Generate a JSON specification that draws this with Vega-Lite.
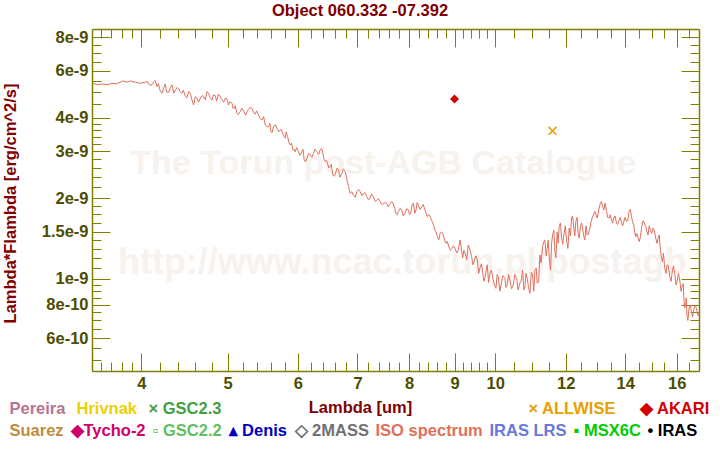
{
  "$schema": "https://vega.github.io/schema/vega-lite/v6.json",
  "width": 607,
  "height": 342,
  "autosize": {"type": "none"},
  "padding": {"left": 92, "top": 29, "right": 21, "bottom": 79},
  "background": "white",
  "config": {"view": {"stroke": null}, "font": "Liberation Sans"},
  "title": {"text": "Object 060.332 -07.392", "font": "Liberation Sans", "fontSize": 16.5, "fontWeight": "bold", "color": "#800000", "anchor": "middle", "frame": "group", "dx": -35.5, "offset": -4, "baseline": "alphabetic"},
  "layer": [
    {
      "data": {"values": [{"label": "The Torun post-AGB Catalogue"}]},
      "mark": {"type": "text", "font": "Liberation Sans", "fontWeight": "bold", "fontSize": 34, "color": "#f7f2ed", "align": "center", "baseline": "middle"},
      "encoding": {
        "text": {"field": "label"},
        "x": {"datum": 7.48, "type": "quantitative", "scale": {"type": "log", "domain": [3.52, 16.95], "nice": false},
          "axis": {"orient": "bottom", "values": [3.6,3.7,3.8,3.9,4.2,4.4,4.6,4.8,5.2,5.4,5.6,5.8,6.2,6.4,6.6,6.8,7.2,7.4,7.6,7.8,8.2,8.4,8.6,8.8,9.2,9.4,9.6,9.8,10.5,11,11.5,12.5,13,13.5,14.5,15,15.5,16.5], "labels": false, "domain": false, "grid": false, "title": null, "tickSize": -9, "tickColor": "#808000", "tickWidth": 1}},
        "y": {"datum": 2.7e-9, "type": "quantitative", "scale": {"type": "log", "domain": [4.53e-10, 8.6e-9], "nice": false},
          "axis": {"orient": "left", "values": [5e-10,5.5e-10,6.5e-10,7e-10,7.5e-10,8.5e-10,9e-10,9.5e-10,1.1e-9,1.2e-9,1.3e-9,1.4e-9,1.625e-9,1.75e-9,1.875e-9,2.2e-9,2.4e-9,2.6e-9,2.8e-9,3.2e-9,3.4e-9,3.6e-9,3.8e-9,4.5e-9,5e-9,5.5e-9,6.5e-9,7e-9,7.5e-9], "labels": false, "domain": false, "grid": false, "title": null, "tickSize": -9, "tickColor": "#808000", "tickWidth": 1}}
      }
    },
    {
      "data": {"values": [{"label": "http://www.ncac.torun.pl/postagb"}]},
      "mark": {"type": "text", "font": "Liberation Sans", "fontWeight": "bold", "fontSize": 36, "color": "#f7f2ed", "align": "center", "baseline": "middle"},
      "encoding": {
        "text": {"field": "label"},
        "x": {"datum": 7.86, "type": "quantitative", "scale": {"type": "log", "domain": [3.52, 16.95], "nice": false},
          "axis": {"orient": "top", "values": [3.6,3.7,3.8,3.9,4.2,4.4,4.6,4.8,5.2,5.4,5.6,5.8,6.2,6.4,6.6,6.8,7.2,7.4,7.6,7.8,8.2,8.4,8.6,8.8,9.2,9.4,9.6,9.8,10.5,11,11.5,12.5,13,13.5,14.5,15,15.5,16.5], "labels": false, "domain": false, "grid": false, "title": null, "tickSize": -9, "tickColor": "#808000", "tickWidth": 1}},
        "y": {"datum": 1.15e-9, "type": "quantitative", "scale": {"type": "log", "domain": [4.53e-10, 8.6e-9], "nice": false},
          "axis": {"orient": "right", "values": [5e-10,5.5e-10,6.5e-10,7e-10,7.5e-10,8.5e-10,9e-10,9.5e-10,1.1e-9,1.2e-9,1.3e-9,1.4e-9,1.625e-9,1.75e-9,1.875e-9,2.2e-9,2.4e-9,2.6e-9,2.8e-9,3.2e-9,3.4e-9,3.6e-9,3.8e-9,4.5e-9,5e-9,5.5e-9,6.5e-9,7e-9,7.5e-9], "labels": false, "domain": false, "grid": false, "title": null, "tickSize": -9, "tickColor": "#808000", "tickWidth": 1}}
      }
    },
    {
      "data": {"values": [
        {"lambda": 3.527, "flux": 5.39e-9}, {"lambda": 3.567, "flux": 5.32e-9}, {"lambda": 3.613, "flux": 5.36e-9}, {"lambda": 3.660, "flux": 5.32e-9},
        {"lambda": 3.708, "flux": 5.39e-9}, {"lambda": 3.756, "flux": 5.36e-9}, {"lambda": 3.811, "flux": 5.50e-9}, {"lambda": 3.855, "flux": 5.44e-9},
        {"lambda": 3.888, "flux": 5.50e-9}, {"lambda": 3.938, "flux": 5.44e-9}, {"lambda": 3.990, "flux": 5.39e-9}, {"lambda": 4.042, "flux": 5.44e-9},
        {"lambda": 4.076, "flux": 5.35e-9}, {"lambda": 4.112, "flux": 5.32e-9}, {"lambda": 4.147, "flux": 5.52e-9}, {"lambda": 4.166, "flux": 5.24e-9},
        {"lambda": 4.220, "flux": 4.95e-9}, {"lambda": 4.256, "flux": 5.35e-9}, {"lambda": 4.293, "flux": 4.99e-9}, {"lambda": 4.331, "flux": 5.32e-9},
        {"lambda": 4.368, "flux": 5.09e-9}, {"lambda": 4.405, "flux": 5.14e-9}, {"lambda": 4.444, "flux": 4.95e-9}, {"lambda": 4.482, "flux": 4.81e-9},
        {"lambda": 4.521, "flux": 5.02e-9}, {"lambda": 4.560, "flux": 4.67e-9}, {"lambda": 4.579, "flux": 4.47e-9}, {"lambda": 4.620, "flux": 4.74e-9},
        {"lambda": 4.659, "flux": 4.74e-9}, {"lambda": 4.699, "flux": 4.81e-9}, {"lambda": 4.741, "flux": 5.02e-9}, {"lambda": 4.773, "flux": 4.81e-9},
        {"lambda": 4.803, "flux": 4.67e-9}, {"lambda": 4.844, "flux": 4.85e-9}, {"lambda": 4.885, "flux": 4.91e-9}, {"lambda": 4.928, "flux": 4.67e-9},
        {"lambda": 4.971, "flux": 4.74e-9}, {"lambda": 5.013, "flux": 4.47e-9}, {"lambda": 5.058, "flux": 4.54e-9}, {"lambda": 5.088, "flux": 4.35e-9},
        {"lambda": 5.123, "flux": 4.17e-9}, {"lambda": 5.167, "flux": 4.22e-9}, {"lambda": 5.212, "flux": 4.25e-9}, {"lambda": 5.258, "flux": 4.22e-9},
        {"lambda": 5.279, "flux": 4.31e-9}, {"lambda": 5.326, "flux": 4.35e-9}, {"lambda": 5.372, "flux": 4.14e-9}, {"lambda": 5.418, "flux": 4.11e-9},
        {"lambda": 5.466, "flux": 3.93e-9}, {"lambda": 5.512, "flux": 3.77e-9}, {"lambda": 5.560, "flux": 3.71e-9}, {"lambda": 5.594, "flux": 3.56e-9},
        {"lambda": 5.632, "flux": 3.71e-9}, {"lambda": 5.682, "flux": 3.66e-9}, {"lambda": 5.731, "flux": 3.61e-9}, {"lambda": 5.765, "flux": 3.51e-9},
        {"lambda": 5.805, "flux": 3.36e-9}, {"lambda": 5.840, "flux": 3.41e-9}, {"lambda": 5.881, "flux": 3.17e-9}, {"lambda": 5.922, "flux": 3.04e-9},
        {"lambda": 5.957, "flux": 2.99e-9}, {"lambda": 6.008, "flux": 2.99e-9}, {"lambda": 6.061, "flux": 2.99e-9}, {"lambda": 6.097, "flux": 2.79e-9},
        {"lambda": 6.140, "flux": 2.83e-9}, {"lambda": 6.193, "flux": 2.91e-9}, {"lambda": 6.246, "flux": 2.95e-9}, {"lambda": 6.301, "flux": 2.99e-9},
        {"lambda": 6.355, "flux": 3.04e-9}, {"lambda": 6.400, "flux": 2.95e-9}, {"lambda": 6.438, "flux": 2.75e-9}, {"lambda": 6.476, "flux": 2.71e-9},
        {"lambda": 6.522, "flux": 2.63e-9}, {"lambda": 6.567, "flux": 2.45e-9}, {"lambda": 6.606, "flux": 2.45e-9}, {"lambda": 6.663, "flux": 2.56e-9},
        {"lambda": 6.722, "flux": 2.48e-9}, {"lambda": 6.780, "flux": 2.52e-9}, {"lambda": 6.820, "flux": 2.31e-9}, {"lambda": 6.868, "flux": 2.09e-9},
        {"lambda": 6.927, "flux": 2.06e-9}, {"lambda": 6.988, "flux": 2.12e-9}, {"lambda": 7.048, "flux": 2.12e-9}, {"lambda": 7.108, "flux": 2.09e-9},
        {"lambda": 7.171, "flux": 2.03e-9}, {"lambda": 7.232, "flux": 2.00e-9}, {"lambda": 7.294, "flux": 2.03e-9}, {"lambda": 7.359, "flux": 1.97e-9},
        {"lambda": 7.422, "flux": 1.95e-9}, {"lambda": 7.486, "flux": 1.92e-9}, {"lambda": 7.552, "flux": 1.91e-9}, {"lambda": 7.616, "flux": 1.91e-9},
        {"lambda": 7.682, "flux": 1.91e-9}, {"lambda": 7.730, "flux": 1.76e-9}, {"lambda": 7.782, "flux": 1.79e-9}, {"lambda": 7.850, "flux": 1.81e-9},
        {"lambda": 7.918, "flux": 1.76e-9}, {"lambda": 7.986, "flux": 1.81e-9}, {"lambda": 8.035, "flux": 1.76e-9}, {"lambda": 8.090, "flux": 1.92e-9},
        {"lambda": 8.146, "flux": 1.81e-9}, {"lambda": 8.195, "flux": 1.89e-9}, {"lambda": 8.267, "flux": 1.86e-9}, {"lambda": 8.338, "flux": 1.81e-9},
        {"lambda": 8.388, "flux": 1.71e-9}, {"lambda": 8.447, "flux": 1.71e-9}, {"lambda": 8.506, "flux": 1.62e-9}, {"lambda": 8.557, "flux": 1.52e-9},
        {"lambda": 8.608, "flux": 1.44e-9}, {"lambda": 8.668, "flux": 1.48e-9}, {"lambda": 8.742, "flux": 1.46e-9}, {"lambda": 8.803, "flux": 1.36e-9},
        {"lambda": 8.856, "flux": 1.34e-9}, {"lambda": 8.934, "flux": 1.30e-9}, {"lambda": 9.011, "flux": 1.30e-9}, {"lambda": 9.088, "flux": 1.28e-9},
        {"lambda": 9.128, "flux": 1.40e-9}, {"lambda": 9.192, "flux": 1.20e-9}, {"lambda": 9.247, "flux": 1.25e-9}, {"lambda": 9.326, "flux": 1.34e-9},
        {"lambda": 9.408, "flux": 1.21e-9}, {"lambda": 9.465, "flux": 1.16e-9}, {"lambda": 9.546, "flux": 1.18e-9}, {"lambda": 9.613, "flux": 1.10e-9},
        {"lambda": 9.680, "flux": 1.06e-9}, {"lambda": 9.738, "flux": 1.01e-9}, {"lambda": 9.796, "flux": 1.13e-9}, {"lambda": 9.865, "flux": 1.05e-9},
        {"lambda": 9.949, "flux": 0.991e-9}, {"lambda": 10.019, "flux": 0.923e-9}, {"lambda": 10.079, "flux": 1.02e-9}, {"lambda": 10.168, "flux": 0.977e-9},
        {"lambda": 10.255, "flux": 1.006e-9}, {"lambda": 10.316, "flux": 0.950e-9}, {"lambda": 10.388, "flux": 0.991e-9}, {"lambda": 10.477, "flux": 0.950e-9},
        {"lambda": 10.570, "flux": 1.006e-9}, {"lambda": 10.660, "flux": 0.964e-9}, {"lambda": 10.735, "flux": 1.08e-9}, {"lambda": 10.799, "flux": 0.936e-9},
        {"lambda": 10.864, "flux": 1.006e-9}, {"lambda": 10.940, "flux": 0.884e-9}, {"lambda": 11.016, "flux": 1.035e-9}, {"lambda": 11.082, "flux": 1.08e-9},
        {"lambda": 11.148, "flux": 0.964e-9}, {"lambda": 11.226, "flux": 1.23e-9}, {"lambda": 11.305, "flux": 1.32e-9}, {"lambda": 11.373, "flux": 1.40e-9},
        {"lambda": 11.440, "flux": 1.30e-9}, {"lambda": 11.500, "flux": 1.21e-9}, {"lambda": 11.541, "flux": 1.08e-9}, {"lambda": 11.601, "flux": 1.46e-9},
        {"lambda": 11.671, "flux": 1.27e-9}, {"lambda": 11.740, "flux": 1.50e-9}, {"lambda": 11.801, "flux": 1.57e-9}, {"lambda": 11.875, "flux": 1.42e-9},
        {"lambda": 11.945, "flux": 1.46e-9}, {"lambda": 12.029, "flux": 1.40e-9}, {"lambda": 12.110, "flux": 1.55e-9}, {"lambda": 12.186, "flux": 1.69e-9},
        {"lambda": 12.258, "flux": 1.55e-9}, {"lambda": 12.322, "flux": 1.64e-9}, {"lambda": 12.395, "flux": 1.48e-9}, {"lambda": 12.473, "flux": 1.59e-9},
        {"lambda": 12.557, "flux": 1.50e-9}, {"lambda": 12.612, "flux": 1.40e-9}, {"lambda": 12.687, "flux": 1.46e-9}, {"lambda": 12.776, "flux": 1.55e-9},
        {"lambda": 12.852, "flux": 1.69e-9}, {"lambda": 12.943, "flux": 1.79e-9}, {"lambda": 13.020, "flux": 1.69e-9}, {"lambda": 13.087, "flux": 1.84e-9},
        {"lambda": 13.169, "flux": 1.95e-9}, {"lambda": 13.247, "flux": 1.81e-9}, {"lambda": 13.340, "flux": 1.79e-9}, {"lambda": 13.430, "flux": 1.69e-9},
        {"lambda": 13.514, "flux": 1.66e-9}, {"lambda": 13.594, "flux": 1.69e-9}, {"lambda": 13.690, "flux": 1.62e-9}, {"lambda": 13.782, "flux": 1.66e-9},
        {"lambda": 13.868, "flux": 1.62e-9}, {"lambda": 13.951, "flux": 1.64e-9}, {"lambda": 14.048, "flux": 1.64e-9}, {"lambda": 14.143, "flux": 1.79e-9},
        {"lambda": 14.231, "flux": 1.71e-9}, {"lambda": 14.316, "flux": 1.59e-9}, {"lambda": 14.390, "flux": 1.44e-9}, {"lambda": 14.476, "flux": 1.42e-9},
        {"lambda": 14.566, "flux": 1.44e-9}, {"lambda": 14.665, "flux": 1.65e-9}, {"lambda": 14.767, "flux": 1.57e-9}, {"lambda": 14.855, "flux": 1.46e-9},
        {"lambda": 14.948, "flux": 1.52e-9}, {"lambda": 15.049, "flux": 1.55e-9}, {"lambda": 15.154, "flux": 1.42e-9}, {"lambda": 15.245, "flux": 1.42e-9},
        {"lambda": 15.340, "flux": 1.28e-9}, {"lambda": 15.419, "flux": 1.16e-9}, {"lambda": 15.511, "flux": 1.10e-9}, {"lambda": 15.604, "flux": 1.13e-9},
        {"lambda": 15.713, "flux": 1.02e-9}, {"lambda": 15.823, "flux": 1.08e-9}, {"lambda": 15.918, "flux": 1.05e-9}, {"lambda": 16.013, "flux": 0.977e-9},
        {"lambda": 16.125, "flux": 0.991e-9}, {"lambda": 16.238, "flux": 0.950e-9}, {"lambda": 16.292, "flux": 0.871e-9}, {"lambda": 16.377, "flux": 0.799e-9},
        {"lambda": 16.432, "flux": 0.723e-9}, {"lambda": 16.517, "flux": 0.777e-9}, {"lambda": 16.620, "flux": 0.755e-9}, {"lambda": 16.719, "flux": 0.766e-9},
        {"lambda": 16.836, "flux": 0.777e-9}, {"lambda": 16.950, "flux": 0.744e-9},
        {"lambda": 4.06, "flux": 5.48e-9}, {"lambda": 4.09, "flux": 5.30e-9}, {"lambda": 4.13, "flux": 5.45e-9}, {"lambda": 4.18, "flux": 5.38e-9},
        {"lambda": 4.20, "flux": 5.05e-9}, {"lambda": 4.24, "flux": 5.20e-9}, {"lambda": 4.27, "flux": 5.00e-9}, {"lambda": 4.31, "flux": 5.18e-9},
        {"lambda": 4.35, "flux": 4.95e-9}, {"lambda": 4.39, "flux": 5.20e-9}, {"lambda": 4.42, "flux": 5.02e-9}, {"lambda": 4.46, "flux": 5.08e-9},
        {"lambda": 4.50, "flux": 4.75e-9}, {"lambda": 4.54, "flux": 4.95e-9}, {"lambda": 4.60, "flux": 4.80e-9}, {"lambda": 4.64, "flux": 4.58e-9},
        {"lambda": 4.68, "flux": 4.85e-9}, {"lambda": 4.72, "flux": 4.68e-9}, {"lambda": 4.76, "flux": 4.95e-9}, {"lambda": 4.79, "flux": 4.72e-9},
        {"lambda": 4.82, "flux": 4.88e-9}, {"lambda": 4.86, "flux": 4.62e-9}, {"lambda": 4.91, "flux": 4.78e-9}, {"lambda": 4.95, "flux": 4.58e-9},
        {"lambda": 4.99, "flux": 4.72e-9},
        {"lambda": 5.03, "flux": 4.60e-9}, {"lambda": 5.07, "flux": 4.35e-9}, {"lambda": 5.10, "flux": 4.45e-9}, {"lambda": 5.14, "flux": 4.12e-9},
        {"lambda": 5.19, "flux": 4.35e-9}, {"lambda": 5.24, "flux": 4.10e-9}, {"lambda": 5.30, "flux": 4.38e-9}, {"lambda": 5.35, "flux": 4.18e-9},
        {"lambda": 5.39, "flux": 4.25e-9}, {"lambda": 5.44, "flux": 3.98e-9}, {"lambda": 5.49, "flux": 4.05e-9}, {"lambda": 5.54, "flux": 3.70e-9},
        {"lambda": 5.58, "flux": 3.82e-9}, {"lambda": 5.61, "flux": 3.52e-9}, {"lambda": 5.66, "flux": 3.78e-9}, {"lambda": 5.71, "flux": 3.55e-9},
        {"lambda": 5.75, "flux": 3.62e-9}, {"lambda": 5.79, "flux": 3.40e-9}, {"lambda": 5.82, "flux": 3.55e-9}, {"lambda": 5.86, "flux": 3.25e-9},
        {"lambda": 5.90, "flux": 3.22e-9}, {"lambda": 5.94, "flux": 3.05e-9}, {"lambda": 5.98, "flux": 3.10e-9}, {"lambda": 6.03, "flux": 2.90e-9},
        {"lambda": 6.08, "flux": 3.05e-9}, {"lambda": 6.12, "flux": 2.74e-9}, {"lambda": 6.17, "flux": 2.95e-9}, {"lambda": 6.22, "flux": 2.85e-9},
        {"lambda": 6.27, "flux": 3.05e-9}, {"lambda": 6.33, "flux": 2.92e-9}, {"lambda": 6.38, "flux": 3.08e-9}, {"lambda": 6.42, "flux": 2.80e-9},
        {"lambda": 6.46, "flux": 2.78e-9}, {"lambda": 6.50, "flux": 2.60e-9}, {"lambda": 6.54, "flux": 2.68e-9}, {"lambda": 6.59, "flux": 2.42e-9},
        {"lambda": 6.64, "flux": 2.60e-9}, {"lambda": 6.69, "flux": 2.40e-9}, {"lambda": 6.75, "flux": 2.58e-9}, {"lambda": 6.80, "flux": 2.42e-9},
        {"lambda": 6.84, "flux": 2.22e-9}, {"lambda": 6.90, "flux": 2.12e-9}, {"lambda": 6.96, "flux": 2.02e-9}, {"lambda": 7.02, "flux": 2.16e-9},
        {"lambda": 7.08, "flux": 2.05e-9}, {"lambda": 7.14, "flux": 2.10e-9}, {"lambda": 7.20, "flux": 1.98e-9}, {"lambda": 7.26, "flux": 2.08e-9},
        {"lambda": 7.33, "flux": 1.95e-9}, {"lambda": 7.39, "flux": 2.00e-9}, {"lambda": 7.45, "flux": 1.90e-9}, {"lambda": 7.52, "flux": 1.93e-9},
        {"lambda": 7.58, "flux": 1.86e-9}, {"lambda": 7.65, "flux": 1.95e-9}, {"lambda": 7.71, "flux": 1.83e-9}, {"lambda": 7.76, "flux": 1.74e-9},
        {"lambda": 7.82, "flux": 1.84e-9}, {"lambda": 7.88, "flux": 1.72e-9}, {"lambda": 7.95, "flux": 1.83e-9}, {"lambda": 8.01, "flux": 1.74e-9},
        {"lambda": 8.06, "flux": 1.88e-9}, {"lambda": 8.12, "flux": 1.76e-9}, {"lambda": 8.17, "flux": 1.93e-9}, {"lambda": 8.23, "flux": 1.82e-9},
        {"lambda": 8.30, "flux": 1.90e-9}, {"lambda": 8.36, "flux": 1.76e-9}, {"lambda": 8.42, "flux": 1.74e-9}, {"lambda": 8.48, "flux": 1.66e-9},
        {"lambda": 8.53, "flux": 1.58e-9}, {"lambda": 8.58, "flux": 1.50e-9}, {"lambda": 8.64, "flux": 1.40e-9}, {"lambda": 8.70, "flux": 1.50e-9},
        {"lambda": 8.77, "flux": 1.40e-9}, {"lambda": 8.83, "flux": 1.38e-9}, {"lambda": 8.90, "flux": 1.28e-9}, {"lambda": 8.97, "flux": 1.33e-9},
        {"lambda": 9.05, "flux": 1.25e-9}, {"lambda": 9.15, "flux": 1.33e-9}, {"lambda": 9.22, "flux": 1.28e-9}, {"lambda": 9.29, "flux": 1.18e-9},
        {"lambda": 9.37, "flux": 1.28e-9}, {"lambda": 9.44, "flux": 1.13e-9}, {"lambda": 9.51, "flux": 1.22e-9},
        {"lambda": 9.58, "flux": 1.05e-9}, {"lambda": 9.65, "flux": 1.14e-9}, {"lambda": 9.71, "flux": 0.98e-9}, {"lambda": 9.77, "flux": 1.08e-9},
        {"lambda": 9.83, "flux": 0.97e-9}, {"lambda": 9.90, "flux": 1.08e-9}, {"lambda": 9.98, "flux": 0.95e-9}, {"lambda": 10.05, "flux": 1.04e-9},
        {"lambda": 10.12, "flux": 0.90e-9}, {"lambda": 10.20, "flux": 1.03e-9}, {"lambda": 10.28, "flux": 0.93e-9}, {"lambda": 10.35, "flux": 1.04e-9},
        {"lambda": 10.43, "flux": 0.92e-9}, {"lambda": 10.52, "flux": 1.04e-9}, {"lambda": 10.61, "flux": 0.91e-9}, {"lambda": 10.70, "flux": 0.99e-9},
        {"lambda": 10.77, "flux": 0.91e-9}, {"lambda": 10.83, "flux": 1.05e-9}, {"lambda": 10.90, "flux": 0.93e-9}, {"lambda": 10.98, "flux": 1.06e-9},
        {"lambda": 11.05, "flux": 0.90e-9}, {"lambda": 11.12, "flux": 1.10e-9}, {"lambda": 11.19, "flux": 0.98e-9},
        {"lambda": 11.26, "flux": 1.15e-9}, {"lambda": 11.34, "flux": 1.38e-9}, {"lambda": 11.41, "flux": 1.22e-9}, {"lambda": 11.47, "flux": 1.40e-9},
        {"lambda": 11.52, "flux": 1.14e-9}, {"lambda": 11.57, "flux": 1.35e-9}, {"lambda": 11.64, "flux": 1.52e-9}, {"lambda": 11.70, "flux": 1.20e-9},
        {"lambda": 11.77, "flux": 1.36e-9}, {"lambda": 11.84, "flux": 1.62e-9}, {"lambda": 11.91, "flux": 1.35e-9}, {"lambda": 11.99, "flux": 1.58e-9},
        {"lambda": 12.07, "flux": 1.30e-9}, {"lambda": 12.15, "flux": 1.45e-9}, {"lambda": 12.22, "flux": 1.72e-9}, {"lambda": 12.29, "flux": 1.45e-9},
        {"lambda": 12.36, "flux": 1.70e-9}, {"lambda": 12.43, "flux": 1.42e-9}, {"lambda": 12.51, "flux": 1.62e-9}, {"lambda": 12.58, "flux": 1.44e-9},
        {"lambda": 12.65, "flux": 1.58e-9}, {"lambda": 12.73, "flux": 1.47e-9}, {"lambda": 12.81, "flux": 1.62e-9},
        {"lambda": 13.05, "flux": 1.75e-9}, {"lambda": 13.13, "flux": 1.92e-9}, {"lambda": 13.21, "flux": 1.86e-9}, {"lambda": 13.29, "flux": 1.92e-9},
        {"lambda": 13.38, "flux": 1.70e-9}, {"lambda": 13.47, "flux": 1.74e-9}, {"lambda": 13.55, "flux": 1.62e-9}, {"lambda": 13.64, "flux": 1.72e-9},
        {"lambda": 13.73, "flux": 1.60e-9}, {"lambda": 13.82, "flux": 1.70e-9}, {"lambda": 13.91, "flux": 1.58e-9}, {"lambda": 14.00, "flux": 1.70e-9},
        {"lambda": 14.10, "flux": 1.66e-9}, {"lambda": 14.19, "flux": 1.82e-9}, {"lambda": 14.27, "flux": 1.64e-9}, {"lambda": 14.35, "flux": 1.50e-9},
        {"lambda": 14.43, "flux": 1.48e-9}, {"lambda": 14.52, "flux": 1.38e-9}, {"lambda": 14.61, "flux": 1.56e-9}, {"lambda": 14.71, "flux": 1.62e-9},
        {"lambda": 14.81, "flux": 1.50e-9}, {"lambda": 14.90, "flux": 1.58e-9}, {"lambda": 15.00, "flux": 1.48e-9}, {"lambda": 15.10, "flux": 1.52e-9},
        {"lambda": 15.20, "flux": 1.36e-9}, {"lambda": 15.29, "flux": 1.46e-9}, {"lambda": 15.38, "flux": 1.20e-9}, {"lambda": 15.46, "flux": 1.25e-9},
        {"lambda": 15.56, "flux": 1.05e-9}, {"lambda": 15.66, "flux": 1.12e-9}, {"lambda": 15.77, "flux": 0.98e-9}, {"lambda": 15.87, "flux": 1.12e-9},
        {"lambda": 15.97, "flux": 0.95e-9}, {"lambda": 16.07, "flux": 1.05e-9}, {"lambda": 16.18, "flux": 0.90e-9}, {"lambda": 16.27, "flux": 0.96e-9},
        {"lambda": 16.33, "flux": 0.78e-9}, {"lambda": 16.40, "flux": 0.85e-9}, {"lambda": 16.47, "flux": 0.70e-9}, {"lambda": 16.57, "flux": 0.80e-9},
        {"lambda": 16.67, "flux": 0.72e-9}, {"lambda": 16.78, "flux": 0.80e-9}, {"lambda": 16.90, "flux": 0.73e-9}
      ]},
      "mark": {"type": "line", "strokeWidth": 1, "clip": true},
      "encoding": {
        "x": {"field": "lambda", "type": "quantitative", "scale": {"type": "log", "domain": [3.52, 16.95], "nice": false},
          "axis": {"orient": "bottom", "values": [4,5,6,7,8,9,10,12,14,16], "format": "~g", "labelOverlap": false, "labelFlush": false, "labelBound": false, "labelFont": "Liberation Sans", "labelFontSize": 16.5, "labelFontWeight": "bold", "labelColor": "#4d4d00", "labelPadding": 22, "tickSize": -18, "tickColor": "#808000", "tickWidth": 1, "domainColor": "#808000", "domainWidth": 1.5, "grid": false,
            "title": "Lambda [um]", "titleFont": "Liberation Sans", "titleColor": "#800000", "titleFontSize": 16.5, "titleFontWeight": "bold", "titleX": 268, "titleY": 41, "titleAlign": "center", "titleBaseline": "alphabetic"}},
        "y": {"field": "flux", "type": "quantitative", "scale": {"type": "log", "domain": [4.53e-10, 8.6e-9], "nice": false},
          "axis": {"orient": "left", "values": [6e-10,8e-10,1e-9,1.5e-9,2e-9,3e-9,4e-9,6e-9,8e-9], "format": "~e", "labelOverlap": false, "labelFlush": false, "labelBound": false, "labelFont": "Liberation Sans", "labelFontSize": 16.5, "labelFontWeight": "bold", "labelColor": "#4d4d00", "labelPadding": 22, "tickSize": -18, "tickColor": "#808000", "tickWidth": 1, "domainColor": "#808000", "domainWidth": 1.5, "grid": false,
            "title": "Lambda*Flambda [erg/cm^2/s]", "titleFont": "Liberation Sans", "titleColor": "#800000", "titleFontSize": 16.5, "titleFontWeight": "bold", "titleX": -77, "titleY": 174, "titleAngle": 270, "titleAlign": "center", "titleBaseline": "alphabetic"}},
        "color": {"datum": "ISO spectrum", "type": "nominal",
          "scale": {"domain": ["Suarez", "Tycho-2", "GSC2.2", "Denis", "2MASS", "ISO spectrum", "IRAS LRS", "MSX6C", "IRAS"], "range": ["#c08c40", "#d0006a", "#60c060", "#0000c0", "#707070", "#e0705c", "#6878d8", "#00cc00", "#000000"]},
          "legend": {"orient": "none", "legendX": -99, "legendY": 394, "direction": "horizontal", "gridAlign": "none", "title": null, "padding": 0, "symbolSize": 0.01, "symbolOpacity": 0, "symbolStrokeWidth": 0, "labelOffset": 0.01, "columnPadding": -10,
            "labelFont": "Liberation Sans", "labelFontSize": 16.5, "labelFontWeight": "bold", "labelLimit": 600,
            "labelExpr": "datum.label == 'Tycho-2' ? '◆Tycho-2' : datum.label == 'GSC2.2' ? '▫ GSC2.2' : datum.label == 'Denis' ? '▴ Denis' : datum.label == '2MASS' ? '◇ 2MASS' : datum.label == 'MSX6C' ? '▪ MSX6C' : datum.label == 'IRAS' ? '• IRAS' : datum.label",
            "labelColor": {"expr": "({'Suarez':'#c08c40','Tycho-2':'#d0006a','GSC2.2':'#60c060','Denis':'#0000c0','2MASS':'#707070','ISO spectrum':'#e0705c','IRAS LRS':'#6878d8','MSX6C':'#00cc00','IRAS':'#000000'})[datum.value]"}}}
      }
    },
    {
      "data": {"values": [
        {"lambda": 9.0, "flux": 4.71e-9, "series": "AKARI", "catalogue": "AKARI"},
        {"lambda": 11.6, "flux": 3.58e-9, "series": "ALLWISE", "catalogue": "ALLWISE"}
      ]},
      "mark": {"type": "point", "filled": true, "opacity": 1, "size": 80},
      "encoding": {
        "x": {"field": "lambda", "type": "quantitative", "scale": {"type": "log", "domain": [3.52, 16.95], "nice": false},
          "axis": {"orient": "top", "values": [4,5,6,7,8,9,10,12,14,16], "labels": false, "tickSize": -18, "tickColor": "#808000", "tickWidth": 1, "domainColor": "#808000", "domainWidth": 1.5, "grid": false, "title": null}},
        "y": {"field": "flux", "type": "quantitative", "scale": {"type": "log", "domain": [4.53e-10, 8.6e-9], "nice": false},
          "axis": {"orient": "right", "values": [6e-10,8e-10,1e-9,1.5e-9,2e-9,3e-9,4e-9,6e-9,8e-9], "labels": false, "tickSize": -18, "tickColor": "#808000", "tickWidth": 1, "domainColor": "#808000", "domainWidth": 1.5, "grid": false, "title": null}},
        "color": {"field": "series", "type": "nominal",
          "scale": {"domain": ["Pereira", "Hrivnak", "GSC2.3", "ALLWISE", "AKARI"], "range": ["#b57590", "#ecd100", "#40a040", "#e6a000", "#d40000"]},
          "legend": {"values": ["Pereira", "Hrivnak", "GSC2.3"], "orient": "none", "legendX": -99, "legendY": 372, "direction": "horizontal", "gridAlign": "none", "title": null, "padding": 0, "symbolSize": 0.01, "symbolOpacity": 0, "symbolStrokeWidth": 0, "labelOffset": 0.01, "columnPadding": -6,
            "labelFont": "Liberation Sans", "labelFontSize": 16.5, "labelFontWeight": "bold", "labelLimit": 600,
            "labelExpr": "datum.label == 'GSC2.3' ? '× GSC2.3' : datum.label",
            "labelColor": {"expr": "({'Pereira':'#b57590','Hrivnak':'#ecd100','GSC2.3':'#40a040'})[datum.value]"}}},
        "shape": {"field": "catalogue", "type": "nominal",
          "scale": {"domain": ["ALLWISE", "AKARI"], "range": ["M-1,-0.75L-0.75,-1L0,-0.25L0.75,-1L1,-0.75L0.25,0L1,0.75L0.75,1L0,0.25L-0.75,1L-1,0.75L-0.25,0Z", "diamond"]},
          "legend": {"orient": "none", "legendX": 420, "legendY": 372, "direction": "horizontal", "gridAlign": "none", "title": null, "padding": 0, "symbolSize": 0.01, "symbolOpacity": 0, "symbolStrokeWidth": 0, "labelOffset": 0.01, "columnPadding": 6.5,
            "labelFont": "Liberation Sans", "labelFontSize": 16.5, "labelFontWeight": "bold", "labelLimit": 600,
            "labelExpr": "datum.label == 'ALLWISE' ? '× ALLWISE' : '◆ AKARI'",
            "labelColor": {"expr": "datum.value == 'ALLWISE' ? '#e6a000' : '#d40000'"}}}
      }
    }
  ],
  "resolve": {"scale": {"color": "independent"}, "axis": {"x": "independent", "y": "independent"}}
}
